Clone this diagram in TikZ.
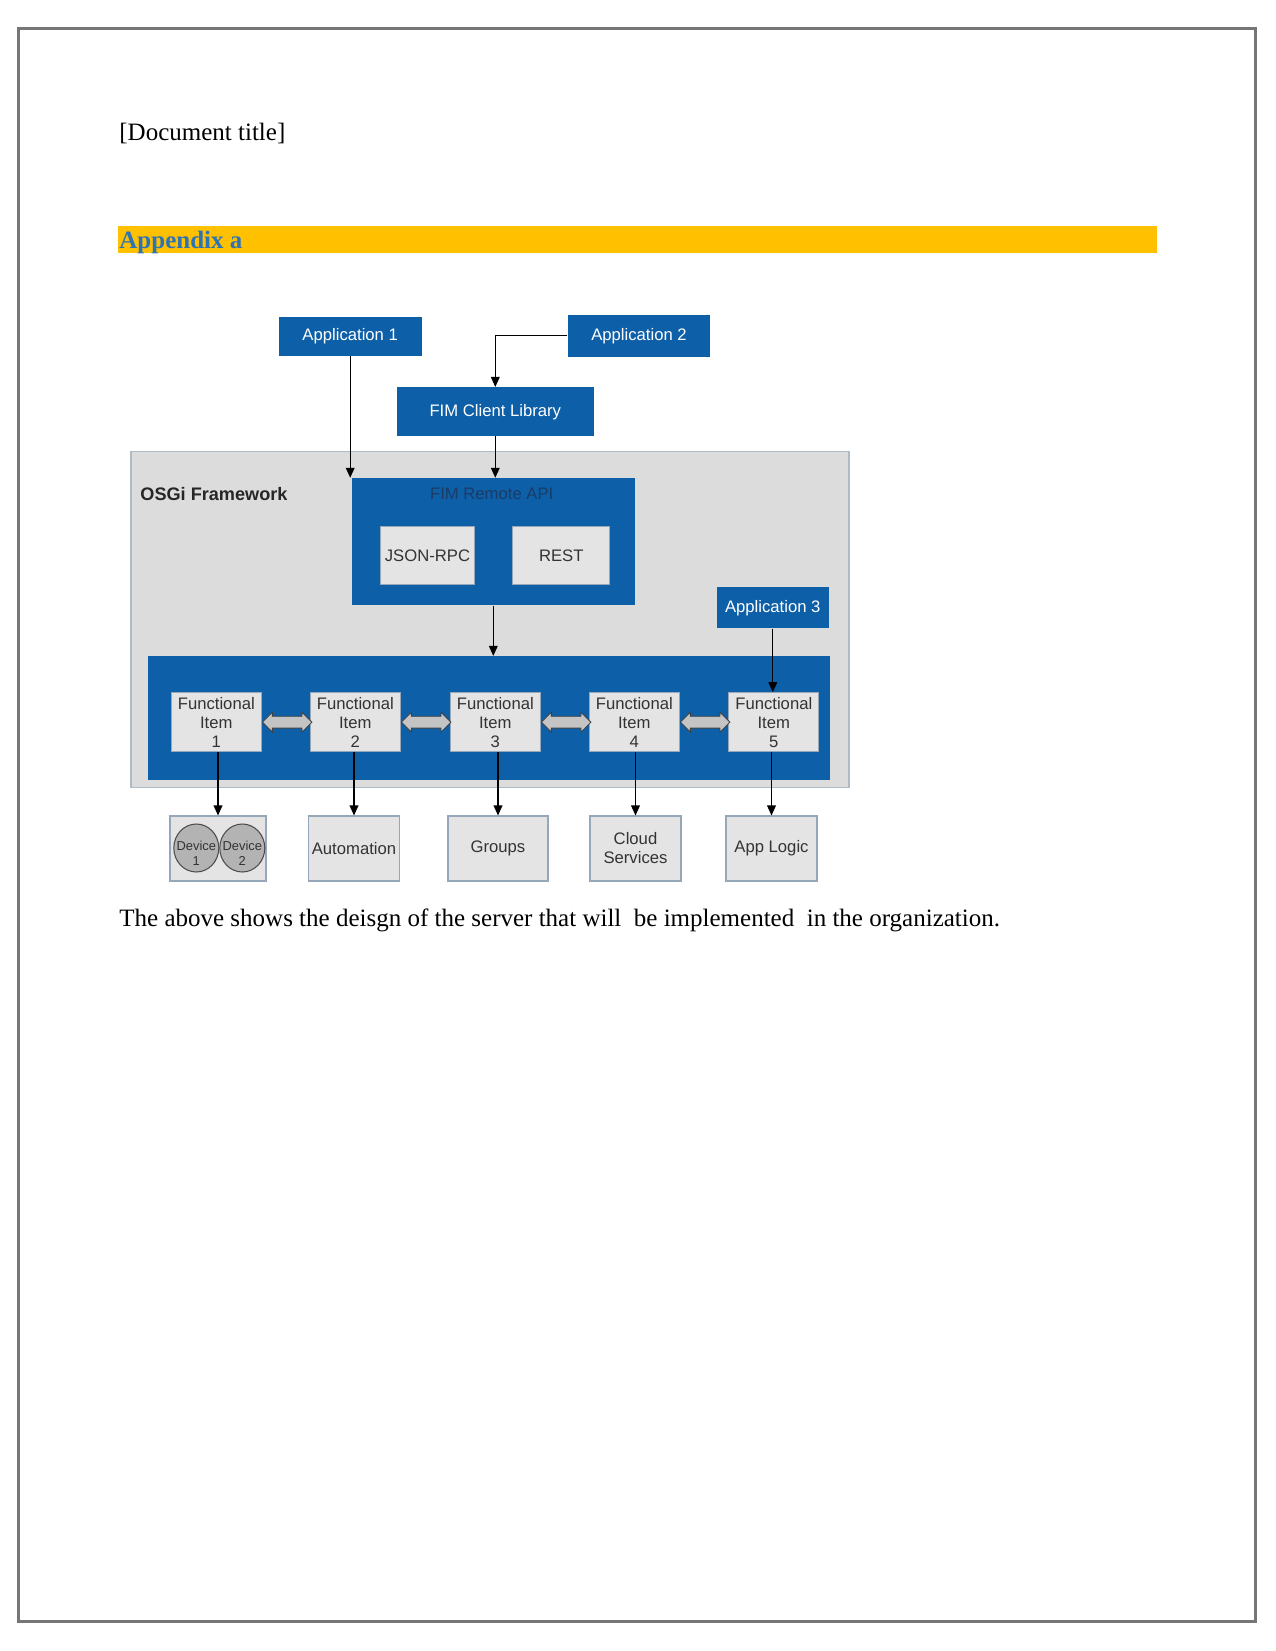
\documentclass[tikz,border=0pt]{standalone}
\usepackage{fontspec}
\setmainfont{Liberation Serif}
\newfontfamily\diagfont{Liberation Sans}
\usetikzlibrary{arrows.meta,positioning,shapes.geometric,shapes.arrows}
\definecolor{fimblue}{HTML}{0D5FA8}
\definecolor{osgigray}{HTML}{DCDCDC}
\definecolor{osgiedge}{HTML}{AEBAC4}
\definecolor{boxgray}{HTML}{E4E4E4}
\definecolor{boxedge}{HTML}{95A7B8}
\definecolor{textgray}{HTML}{333333}
\definecolor{apiblue}{HTML}{1A3C66}
\definecolor{linkgray}{HTML}{C4C4C4}
\definecolor{devgray}{HTML}{B3B3B3}
\definecolor{bargold}{HTML}{FFC000}
\definecolor{headblue}{HTML}{2E74B5}
\definecolor{pageedge}{HTML}{767676}
\newcommand{\pxu}{0.48pt}
\tikzset{
  diagram font/.style={font=\diagfont\fontsize{8}{9.1}\selectfont},
  page text/.style={anchor=base west,inner sep=0pt,font=\fontsize{12}{14}\selectfont},
  blue box/.style={diagram font,fill=fimblue,text=white,inner sep=0pt},
  gray box/.style={diagram font,fill=boxgray,draw=boxedge,line width=.5pt,text=textgray,align=center,inner sep=0pt},
  flow/.style={line width=.55pt,-{Triangle[length=4.8pt,width=4.2pt]}},
  link/.style={double arrow,fill=linkgray,draw=black!75,line width=.4pt,inner xsep=0pt,inner ysep=5.5*\pxu,
    double arrow head extend=4*\pxu,minimum height=49.5*\pxu},
  device/.style={ellipse,fill=devgray,draw=black!70,line width=.5pt,inner sep=0pt,
    minimum width=45*\pxu,minimum height=48*\pxu},
  device text/.style={align=center,text=textgray,inner sep=0pt,yshift=-2.5pt,
    font=\diagfont\fontsize{6.2}{7.2}\selectfont}
}

\begin{document}
\begin{tikzpicture}[x=\pxu,y=-\pxu]
  \useasboundingbox (0,0) rectangle (1275,1651);
  \fill[white] (0,0) rectangle (1275,1651);
  \draw[pageedge,line width=3*\pxu] (18.5,28.3) rectangle (1255.7,1621);

  % page header
  \node[page text] (doctitle) at (119,141) {[Document title]};
  \fill[bargold] (118,226) rectangle (1157,253.5);
  \node[page text,font=\bfseries\fontsize{12}{14}\selectfont,text=headblue] (appendix) at (119,248.5) {Appendix a};

  % OSGi framework
  \node[fill=osgigray,draw=osgiedge,line width=.6pt,inner sep=0pt,anchor=north west,
        minimum width=718*\pxu,minimum height=336*\pxu] (osgi) at (130.4,451) {};
  \node[anchor=base west,inner sep=0pt,text=black!85,
        font=\diagfont\bfseries\fontsize{8.7}{10}\selectfont] (osgilabel) at (140,500.7) {OSGi Framework};

  \node[blue box,minimum width=143.4*\pxu,minimum height=39.3*\pxu] (app1) at (350.2,336.3) {Application 1};
  \node[blue box,minimum width=142.6*\pxu,minimum height=41.7*\pxu] (app2) at (639,335.8) {Application 2};
  \node[blue box,minimum width=196.6*\pxu,minimum height=48.7*\pxu] (fimclient) at (495.3,411.7) {FIM Client Library};

  \node[blue box,minimum width=283.3*\pxu,minimum height=127*\pxu] (remoteapi) at (493.3,541.7) {};
  \node[diagram font,text=apiblue,anchor=base,inner sep=0pt] (remotelabel) at (491.7,499.3) {FIM Remote API};
  \node[gray box,minimum width=93.6*\pxu,minimum height=58.3*\pxu] (jsonrpc) at (427.5,555.8) {JSON-RPC};
  \node[gray box,minimum width=97.3*\pxu,minimum height=58.3*\pxu] (rest) at (561.3,555.8) {REST};

  \node[blue box,minimum width=112.3*\pxu,minimum height=41*\pxu] (app3) at (772.8,607.8) {Application 3};
  \node[fill=fimblue,inner sep=0pt,minimum width=681.7*\pxu,minimum height=124*\pxu] (fiblue) at (489.2,718.3) {};

  \foreach \i/\x in {1/216.3,2/355.3,3/495.3,4/634.3,5/773.8}
    \node[gray box,minimum width=90*\pxu,minimum height=59*\pxu] (fi\i) at (\x,722.2) {Functional\\Item\\\i};
  \foreach \i in {1,...,4}
    \node[link,right=0pt of fi\i] (link\i) {};

  % outer services
  \foreach \n/\x/\w/\t in {devices/218/96/{},automation/354/90.3/Automation,groups/498/100/Groups,
                           cloud/635.5/91/{Cloud\\Services},applogic/771.5/91/App Logic}
    \node[gray box,minimum width=\w*\pxu,minimum height=65*\pxu] (\n) at (\x,848.5) {\t};
  \node[device] (dev1) at (196.3,848) {};
  \node[device] (dev2) at (242.3,848) {};
  \node[device text] at (dev1) {Device\\1};
  \node[device text] at (dev2) {Device\\2};

  \draw[flow] (app1.south) -- (app1.south |- remoteapi.north);
  \draw[flow] (app2.west) -| (fimclient.north);
  \draw[flow] (fimclient.south) -- (fimclient.south |- remoteapi.north);
  \draw[flow] (remoteapi.south) -- (remoteapi.south |- fiblue.north);
  \draw[flow] (app3.south) -- (app3.south |- fi5.north);
  \foreach \i/\n in {1/devices,2/automation,3/groups,4/cloud,5/applogic}
    \draw[flow] (\n.north |- fi\i.south) -- (\n.north);

  \node[page text] (caption) at (119,926.7) {The above shows the deisgn of the server that will\ \ be implemented\ \ in the organization.};
\end{tikzpicture}
\end{document}
